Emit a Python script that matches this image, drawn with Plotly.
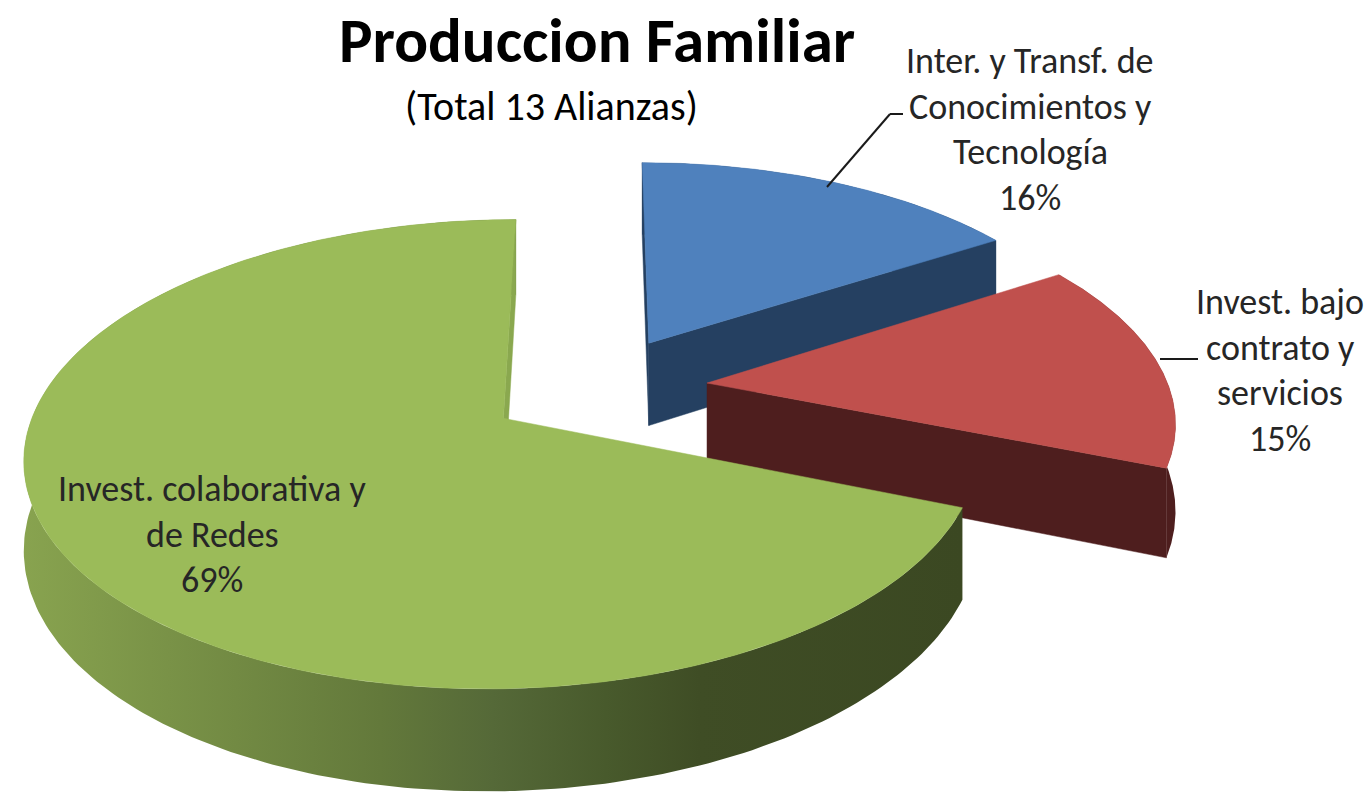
import numpy as np
import plotly.graph_objects as go

# ---------------- data ----------------
categories = [
    ["Inter. y Transf. de", "Conocimientos y", "Tecnología"],
    ["Invest. bajo", "contrato y", "servicios"],
    ["Invest. colaborativa y", "de Redes"],
]
values = [16, 15, 69]
title_text = "Produccion Familiar"
subtitle_text = "(Total 13 Alianzas)"

top_colors = ["#4F81BD", "#C0504D", "#9BBB59"]
side_colors = ["#254061", "#4E1E1E", "#89A64E"]
green_side_scale = [[0, "#88a34f"], [0.38, "#63793b"], [0.5, "#556938"],
                    [0.62, "#485a2c"], [0.72, "#3f4d25"], [1, "#3b4822"]]

# ---------------- geometry (pseudo 3-D pie) ----------------
W, H = 1372, 796       # page size
OFF = 8                # default page margin of the html body
CX, CY = 597, 388      # centre of un-exploded pie (page px)
SX, SY = 462, 220      # horizontal / vertical radius
P = 0.15               # perspective strength
E = 0.24               # explode
DEPTH = 85             # thickness (px)
START = 90.0           # first slice starts at 12 o'clock, clockwise

FONT = "Carlito, Lato, sans-serif"


def proj(X, Z, down=False):
    X = np.asarray(X, float)
    Z = np.asarray(Z, float)
    f = 1.0 / (1.0 + P * Z)
    sx = CX + SX * X * f
    sy = CY - SY * Z * f + (DEPTH * f if down else 0.0)
    return sx, sy


total = float(sum(values))
fig = go.Figure()

cum = 0.0
for i, v in enumerate(values):
    ts = START - 360.0 * cum / total
    te = ts - 360.0 * v / total
    cum += v
    mid = np.radians((ts + te) / 2)
    ex, ez = E * np.cos(mid), E * np.sin(mid)
    th = np.radians(np.linspace(ts, te, 240))
    Xa, Za = ex + np.cos(th), ez + np.sin(th)

    # --- side walls ---
    tx, ty = proj(Xa, Za)
    bx, by = proj(Xa, Za, down=True)
    band_x = np.concatenate([tx, bx[::-1], tx[:1]])
    band_y = np.concatenate([ty, by[::-1], ty[:1]])
    if i == 2:
        fig.add_trace(go.Scatter(x=band_x, y=band_y, mode="lines", fill="toself",
                                 line=dict(width=0), fillcolor=side_colors[i],
                                 fillgradient=dict(type="horizontal",
                                                   colorscale=green_side_scale),
                                 hoverinfo="skip", showlegend=False))
    else:
        fig.add_trace(go.Scatter(x=band_x, y=band_y, mode="lines", fill="toself",
                                 line=dict(width=0), fillcolor=side_colors[i],
                                 hoverinfo="skip", showlegend=False))

    # radial walls facing the viewer
    for ang, normal in ((ts, ts + 90), (te, te - 90)):
        if np.sin(np.radians(normal)) <= 1e-9:
            a = np.radians(ang)
            X2 = [ex, ex + np.cos(a)]
            Z2 = [ez, ez + np.sin(a)]
            t2x, t2y = proj(X2, Z2)
            b2x, b2y = proj(X2, Z2, down=True)
            col = "#8AA84F" if i == 2 else side_colors[i]
            fig.add_trace(go.Scatter(
                x=[t2x[0], t2x[1], b2x[1], b2x[0], t2x[0]],
                y=[t2y[0], t2y[1], b2y[1], b2y[0], t2y[0]],
                mode="lines", fill="toself", line=dict(width=0.5, color=col),
                fillcolor=col, hoverinfo="skip", showlegend=False))

    # --- top face ---
    ax, ay = proj([ex], [ez])
    fx = np.concatenate([ax, tx, ax])
    fy = np.concatenate([ay, ty, ay])
    fig.add_trace(go.Scatter(x=fx, y=fy, mode="lines", fill="toself",
                             line=dict(width=0.5, color=top_colors[i]),
                             fillcolor=top_colors[i], hoverinfo="skip",
                             showlegend=False))

# ---------------- texts ----------------
ann = []
ann.append(dict(x=597, y=40, text=f"<b>{title_text}</b>", showarrow=False,
                font=dict(family=FONT, size=63, color="#000000"),
                xanchor="center", yanchor="middle"))
ann.append(dict(x=551, y=106, text=subtitle_text, showarrow=False,
                font=dict(family=FONT, size=40, color="#000000"),
                xanchor="center", yanchor="middle"))

label_anchor = [(1030, 61), (1280, 302), (212, 489)]
LINE_H = 45.5
for i, lines in enumerate(categories):
    lx, ly = label_anchor[i]
    all_lines = lines + [f"{values[i]}%"]
    for k, t in enumerate(all_lines):
        ann.append(dict(x=lx, y=ly + k * LINE_H, text=t, showarrow=False,
                        font=dict(family=FONT, size=36, color="#262626"),
                        xanchor="center", yanchor="middle"))

shapes = [
    dict(type="line", x0=827, y0=187, x1=890, y1=114, xref="x", yref="y",
         line=dict(color="#1a1a1a", width=2)),
    dict(type="line", x0=890, y0=114, x1=903, y1=114, xref="x", yref="y",
         line=dict(color="#1a1a1a", width=2)),
    dict(type="line", x0=1160, y0=359, x1=1198, y1=359, xref="x", yref="y",
         line=dict(color="#1a1a1a", width=2)),
]

fig.update_layout(
    width=W - OFF, height=H - OFF, autosize=False,
    margin=dict(l=0, r=0, t=0, b=0),
    paper_bgcolor="white", plot_bgcolor="white",
    xaxis=dict(range=[OFF, W], visible=False, fixedrange=True),
    yaxis=dict(range=[H, OFF], visible=False, fixedrange=True),
    annotations=ann, shapes=shapes, showlegend=False,
)

fig.write_html("out.html")
